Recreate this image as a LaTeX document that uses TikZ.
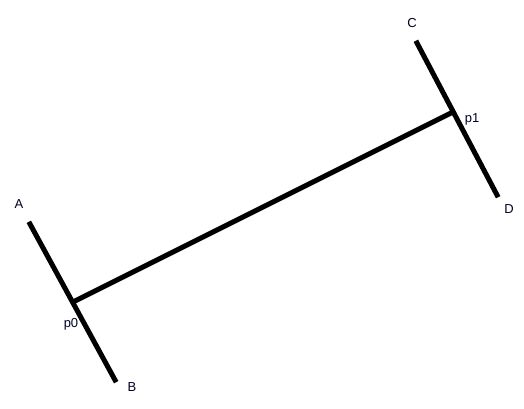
\documentclass[tikz,border=0pt]{standalone}
\usepackage{fontspec}
\setmainfont{Liberation Sans}
\begin{document}
\begin{tikzpicture}[x=1pt,y=-1pt,
  seg/.style={line width=5pt,line cap=rect},
  lbl/.style={font=\fontsize{13}{15}\selectfont,text=black!85!blue,inner sep=0pt}]
\useasboundingbox[fill=white] (0,0) rectangle (524,409);
\coordinate (a) at (30,224);
\coordinate (b) at (115,380);
\coordinate (c) at (417,43);
\coordinate (d) at (497,195);
\coordinate (p0) at (73,302);
\coordinate (p1) at (453,112);
\draw[seg] (a) -- (b);
\draw[seg] (c) -- (d);
\draw[seg] (p0) -- (p1);
\node[lbl] (la) at (19,204) {A};
\node[lbl] (lb) at (132,387) {B};
\node[lbl] (lc) at (412,23) {C};
\node[lbl] (ld) at (509,209) {D};
\node[lbl] (lp0) at (71,324) {p0};
\node[lbl] (lp1) at (472,119) {p1};
\end{tikzpicture}
\end{document}
